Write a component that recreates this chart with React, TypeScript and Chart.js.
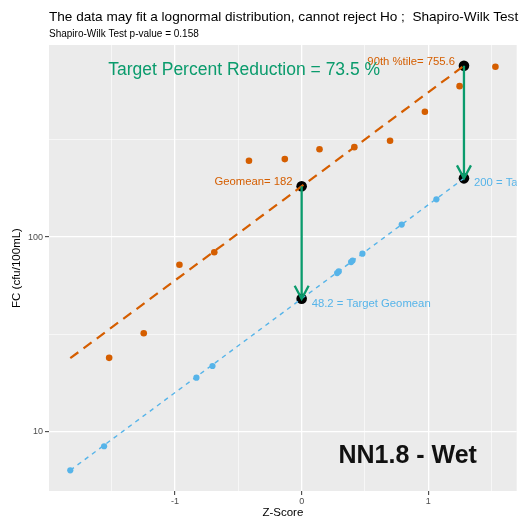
import React, { useEffect, useRef } from 'react';
import { Chart, registerables } from 'chart.js';

Chart.register(...registerables);

// Observed samples (normal score vs. fecal coliform)
const observedZ = [-1.52, -1.247, -0.965, -0.69, -0.416, -0.133, 0.141, 0.416, 0.698, 0.973, 1.247, 1.53];
const observedFC = [24.0, 32.1, 72.1, 83.5, 246, 251, 282, 289, 312, 439, 594, 747];

// Target distribution points
const targetZ = [-1.827, -1.56, -0.831, -0.704, 0.28, 0.293, 0.39, 0.402, 0.48, 0.79, 1.064];
const targetFC = [6.36, 8.45, 19.0, 21.8, 65.3, 66.6, 74.4, 75.8, 82.1, 115.8, 156];

// Fitted lognormal lines (end points)
const fitZ = [-1.827, 1.2816];
const observedFit = [23.9, 755.6];
const targetFit = [6.36, 200];

// Summary statistics: geomean at z = 0, 90th percentile at z = 1.2816
const summaryZ = [0, 1.2816];
const observedStats = [182, 755.6];
const targetStats = [48.2, 200];

// Axis ticks
const xTicks = [-1.5, -1, -0.5, 0, 0.5, 1, 1.5];
const xLabels = [-1, 0, 1];
const yTicks = [10, 31.623, 100, 316.23];
const yLabels = [10, 100];

const pValue = 0.158;
const siteName = 'NN1.8 - Wet';

const ORANGE = '#D55E00';
const BLUE = '#56B4E9';
const GREEN = '#0A9B6C';
const FONT = '"Liberation Sans", Arial, sans-serif';

const isLabel = (list: number[], v: number) => list.some((t) => Math.abs(t - v) < 1e-6 * Math.max(1, Math.abs(t)));

const panelBackground = {
  id: 'panelBackground',
  beforeDraw(chart: any) {
    const { ctx, chartArea: a } = chart;
    ctx.save();
    ctx.fillStyle = '#EBEBEB';
    ctx.fillRect(a.left, a.top, a.right - a.left, a.bottom - a.top);
    ctx.restore();
  },
};

const annotations = {
  id: 'annotations',
  afterDatasetsDraw(chart: any) {
    const { ctx, chartArea: a, scales } = chart;
    const xs = scales.x;
    const ys = scales.y;

    ctx.save();
    ctx.beginPath();
    ctx.rect(a.left, a.top, a.right - a.left, a.bottom - a.top);
    ctx.clip();

    // reduction arrows from observed to target statistics
    ctx.strokeStyle = GREEN;
    ctx.lineWidth = 2.3;
    ctx.lineCap = 'butt';
    for (let i = 0; i < summaryZ.length; i++) {
      const px = xs.getPixelForValue(summaryZ[i]);
      const y1 = ys.getPixelForValue(observedStats[i]);
      const y2 = ys.getPixelForValue(targetStats[i]);
      ctx.beginPath();
      ctx.moveTo(px, y1);
      ctx.lineTo(px, y2);
      ctx.stroke();
      ctx.beginPath();
      ctx.moveTo(px - 7, y2 - 13);
      ctx.lineTo(px, y2);
      ctx.lineTo(px + 7, y2 - 13);
      ctx.stroke();
    }

    ctx.textBaseline = 'middle';
    ctx.font = `11.3px ${FONT}`;

    const gx = xs.getPixelForValue(summaryZ[0]);
    const px90 = xs.getPixelForValue(summaryZ[1]);

    ctx.fillStyle = ORANGE;
    ctx.textAlign = 'right';
    ctx.fillText(`Geomean= ${observedStats[0]}`, gx - 9, ys.getPixelForValue(observedStats[0]) - 4);
    ctx.fillText(`90th %tile= ${observedStats[1]}`, px90 - 9, ys.getPixelForValue(observedStats[1]) - 4.4);

    ctx.fillStyle = BLUE;
    ctx.textAlign = 'left';
    ctx.fillText(`${targetStats[0]} = Target Geomean`, gx + 10, ys.getPixelForValue(targetStats[0]) + 5.5);
    ctx.fillText(`${targetStats[1]} = Target 90th %tile`, px90 + 10, ys.getPixelForValue(targetStats[1]) + 4.4);

    // percent reduction heading
    const reduction = ((1 - targetStats[1] / observedStats[1]) * 100).toFixed(1);
    ctx.fillStyle = GREEN;
    ctx.textAlign = 'center';
    ctx.font = `17.5px ${FONT}`;
    ctx.fillText(`Target Percent Reduction = ${reduction} %`, xs.getPixelForValue(-0.454), ys.getPixelForValue(716));

    // site label
    ctx.fillStyle = '#111111';
    ctx.font = `bold 25px ${FONT}`;
    ctx.textBaseline = 'alphabetic';
    ctx.fillText(siteName, xs.getPixelForValue(0.837), ys.getPixelForValue(6.91));
    ctx.restore();

    // plot title and subtitle
    ctx.save();
    ctx.fillStyle = '#000000';
    ctx.textAlign = 'left';
    ctx.textBaseline = 'alphabetic';
    ctx.font = `13.6px ${FONT}`;
    ctx.fillText('The data may fit a lognormal distribution, cannot reject Ho ;  Shapiro-Wilk Test', a.left, 21);
    ctx.font = `10px ${FONT}`;
    ctx.fillText(`Shapiro-Wilk Test p-value = ${pValue}`, a.left, 36.5);
    ctx.restore();
  },
};

const toPoints = (xsArr: number[], ysArr: number[]) => xsArr.map((x, i) => ({ x, y: ysArr[i] }));

export default function App() {
  const canvasRef = useRef<HTMLCanvasElement | null>(null);

  useEffect(() => {
    const canvas = canvasRef.current;
    if (!canvas) return;

    const chart = new Chart(canvas, {
      type: 'scatter',
      data: {
        datasets: [
          {
            label: 'summary',
            data: [...toPoints(summaryZ, observedStats), ...toPoints(summaryZ, targetStats)],
            backgroundColor: '#000000',
            borderWidth: 0,
            pointRadius: 5.3,
            order: 4,
          },
          {
            label: 'observed fit',
            data: toPoints(fitZ, observedFit),
            showLine: true,
            borderColor: ORANGE,
            borderWidth: 2.2,
            borderDash: [10, 6.5],
            pointRadius: 0,
            order: 3,
          },
          {
            label: 'target fit',
            data: toPoints(fitZ, targetFit),
            showLine: true,
            borderColor: BLUE,
            borderWidth: 1.4,
            borderDash: [4.5, 4.5],
            pointRadius: 0,
            order: 3,
          },
          {
            label: 'observed',
            data: toPoints(observedZ, observedFC),
            backgroundColor: ORANGE,
            borderWidth: 0,
            pointRadius: 3.3,
            order: 1,
          },
          {
            label: 'target',
            data: toPoints(targetZ, targetFC),
            backgroundColor: BLUE,
            borderWidth: 0,
            pointRadius: 3.1,
            order: 1,
          },
        ],
      },
      options: {
        animation: false,
        responsive: false,
        events: [],
        layout: { padding: { left: 0, right: 3, top: 45, bottom: 0 } },
        plugins: {
          legend: { display: false },
          tooltip: { enabled: false },
        },
        scales: {
          x: {
            type: 'linear',
            min: -1.995,
            max: 1.698,
            afterBuildTicks: (scale: any) => {
              scale.ticks = xTicks.map((value) => ({ value }));
            },
            afterFit: (scale: any) => {
              scale.height = 30;
            },
            border: { display: false },
            grid: {
              color: '#FFFFFF',
              lineWidth: (c: any) => (isLabel(xLabels, c.tick?.value) ? 1.3 : 0.6),
              tickColor: (c: any) => (isLabel(xLabels, c.tick?.value) ? '#333333' : 'rgba(0,0,0,0)'),
              tickWidth: 1,
              tickLength: 4,
            },
            ticks: {
              autoSkip: false,
              maxRotation: 0,
              padding: 1,
              color: '#4D4D4D',
              font: { family: FONT, size: 9 },
              callback: (value: any) => (isLabel(xLabels, Number(value)) ? String(Math.round(Number(value))) : ''),
            },
            title: {
              display: true,
              text: 'Z-Score',
              color: '#000000',
              font: { family: FONT, size: 11.5 },
              padding: { top: 0, bottom: 1 },
            },
          },
          y: {
            type: 'logarithmic',
            min: 4.98,
            max: 966,
            afterBuildTicks: (scale: any) => {
              scale.ticks = yTicks.map((value) => ({ value }));
            },
            afterFit: (scale: any) => {
              scale.width = 49;
            },
            border: { display: false },
            grid: {
              color: '#FFFFFF',
              lineWidth: (c: any) => (isLabel(yLabels, c.tick?.value) ? 1.3 : 0.6),
              tickColor: (c: any) => (isLabel(yLabels, c.tick?.value) ? '#333333' : 'rgba(0,0,0,0)'),
              tickWidth: 1,
              tickLength: 4,
            },
            ticks: {
              autoSkip: false,
              padding: 2,
              color: '#4D4D4D',
              font: { family: FONT, size: 9 },
              callback: (value: any) => (isLabel(yLabels, Number(value)) ? String(Math.round(Number(value))) : ''),
            },
            title: {
              display: true,
              text: 'FC (cfu/100mL)',
              color: '#000000',
              font: { family: FONT, size: 11.5 },
              padding: { top: 10, bottom: 0 },
            },
          },
        },
      },
      plugins: [panelBackground, annotations],
    } as any);

    return () => chart.destroy();
  }, []);

  return (
    <div style={{ position: 'absolute', left: 0, top: 0, width: 522, height: 521 }}>
      <canvas ref={canvasRef} width={522} height={521} />
    </div>
  );
}
